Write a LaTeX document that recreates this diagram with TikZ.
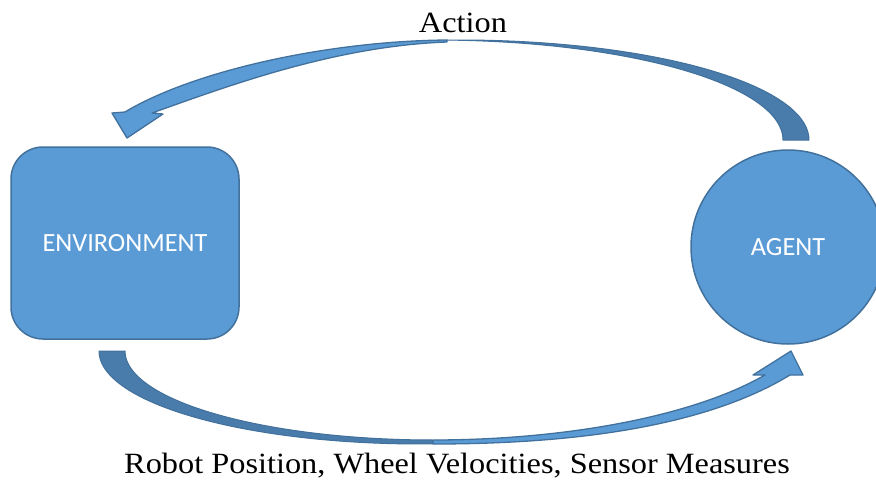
\documentclass[tikz,border=0pt]{standalone}
\usepackage{fontspec}
\setmainfont{Liberation Serif}
\newfontfamily\boxfont{Carlito}
\definecolor{officeblue}{HTML}{5B9BD5}
\definecolor{officeline}{HTML}{41719C}
\definecolor{officeback}{HTML}{497CAA}
\begin{document}
\begin{tikzpicture}[x=1pt,y=-1pt,
  face/.style={fill=officeblue, draw=officeline, line width=1.3pt, line join=round},
  back/.style={fill=officeback, draw=officeline, line width=1pt, line join=round},
  block/.style={fill=officeblue, draw=officeline, line width=1.5pt, inner sep=0pt,
    text=white, font=\boxfont\fontsize{26.3}{28}\selectfont},
  caption/.style={inner sep=0pt, anchor=base, font=\fontsize{29.4}{32}\selectfont}]
\useasboundingbox (0,0) rectangle (876,482);

% the two blocks
\node[block, rectangle, rounded corners=32pt, minimum width=228pt, minimum height=192pt]
  (env) at (125,243) {ENVIRONMENT};
\node[block, circle, minimum size=194pt] (agent) at (788,247) {AGENT};

% upper curved arrow: back side of the ribbon (tail above the agent)
\path[back]
  plot[domain=0:-92.1, samples=60, variable=\t] ({460+349*cos(\t)}, {140+100*sin(\t)})
  -- plot[domain=-87.9:0, samples=60, variable=\t] ({434+349*cos(\t)}, {140+100*sin(\t)})
  -- cycle;
% upper curved arrow: front side with the head pointing at the environment
\path[face] (447,40) .. controls (330,41) and (195,70) .. (125,112)
  -- (112,113) -- (127,138) -- (163,114) -- (152,113)
  .. controls (228,86) and (335,46) .. (447,42) -- cycle;

% lower curved arrow: back side (tail below the environment)
\path[back]
  plot[domain=180:87.7, samples=60, variable=\t] ({420+321*cos(\t)}, {351+93*sin(\t)})
  -- (433,440)
  -- plot[domain=90:180, samples=60, variable=\t] ({433+308*cos(\t)}, {351+89*sin(\t)})
  -- cycle;
% lower curved arrow: front side with the head pointing at the agent
\path[face] (433,444) .. controls (560,444) and (700,430) .. (790,375)
  -- (803,375) -- (791,351) -- (753,375) -- (765,375)
  .. controls (690,418) and (560,440) .. (433,440) -- cycle;

% labels
\node[caption] (act) at (463,32.3) {\scalebox{1.1}[1]{Action}};
\node[caption] (obs) at (457,473.7) {\scalebox{1.1}[1]{Robot Position, Wheel Velocities, Sensor Measures}};
\end{tikzpicture}
\end{document}
